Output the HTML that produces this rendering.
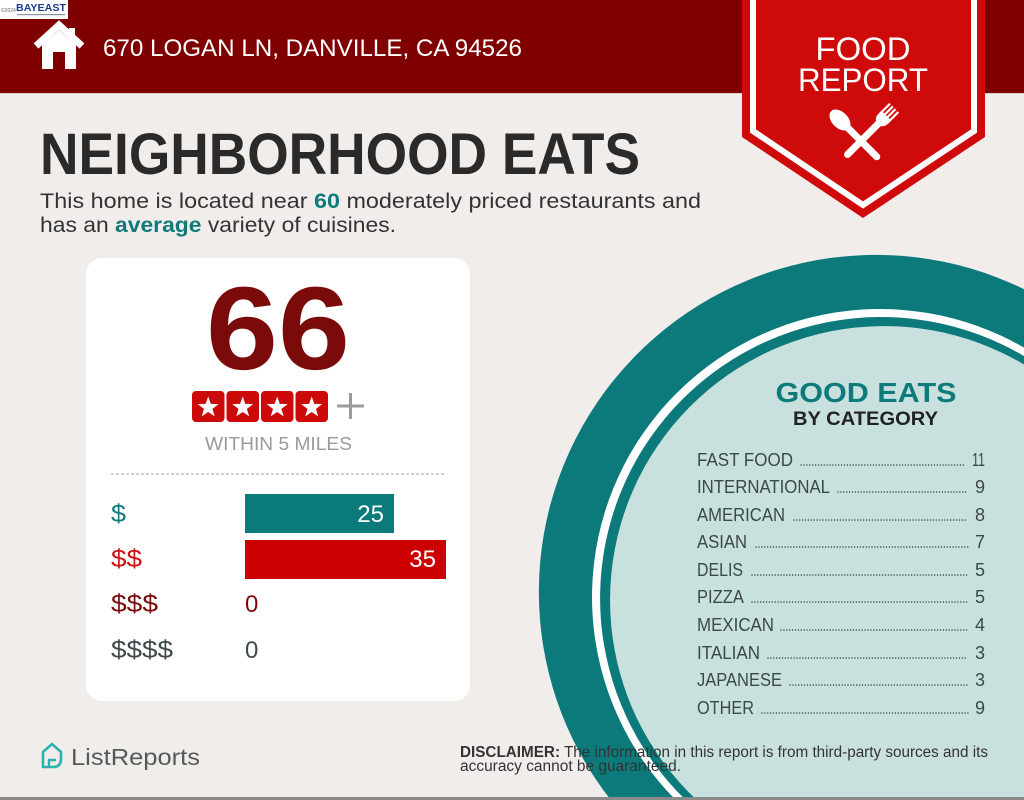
<!DOCTYPE html>
<html>
<head>
<meta charset="utf-8">
<style>
  html, body { margin: 0; padding: 0; background: #f1edea; width: 1024px; height: 800px; overflow: hidden; }
  svg { display: block; }
  text { font-family: "Liberation Sans", Arial, sans-serif; }
</style>
</head>
<body>
<svg width="1024" height="800" viewBox="0 0 1024 800" xmlns="http://www.w3.org/2000/svg">
  <!-- background -->
  <rect x="0" y="0" width="1024" height="800" fill="#f1edea"/>

  <!-- big circle (clipped to frame as paths) -->
  <path d="M610.8,800 A337,337 0 0 1 1024,289.2 L1024,800 Z" fill="#0c7a7b"/>
  <path d="M675.7,800 A288,288 0 0 1 1024,347.6 L1024,800 Z" fill="#ffffff"/>
  <path d="M685.7,800 A281,281 0 0 1 1024,356.1 L1024,800 Z" fill="#0c7a7b"/>
  <path d="M696.7,800 A274,274 0 0 1 1024,364.5 L1024,800 Z" fill="#c9e1de"/>

  <!-- header band -->
  <rect x="0" y="0" width="1024" height="93" fill="#7e0000"/>
  <rect x="0" y="93" width="1024" height="1" fill="#c9a7a3" opacity="0.5"/>

  <!-- BAYEAST logo -->
  <rect x="0" y="0" width="68" height="19" fill="#ffffff"/>
  <text x="1" y="12" font-size="5" fill="#666">©2024</text>
  <text x="16" y="11" font-size="10.5" font-weight="bold" fill="#1d3d8c" textLength="50" lengthAdjust="spacingAndGlyphs">BAYEAST</text>
  <rect x="17" y="14" width="48" height="1.2" fill="#8892a8"/>

  <!-- house icon -->
  <polyline points="36,46 59,25 82,46" fill="none" stroke="#ffffff" stroke-width="7" stroke-linejoin="miter"/>
  <rect x="69" y="28" width="6" height="12" fill="#ffffff"/>
  <path d="M42,45 L59,30 L76,45 L76,69 L65,69 L65,52 L53,52 L53,69 L42,69 Z" fill="#ffffff"/>

  <!-- address -->
  <text x="103" y="56" font-size="24" fill="#ffffff" textLength="419" lengthAdjust="spacingAndGlyphs">670 LOGAN LN, DANVILLE, CA 94526</text>

  <!-- FOOD REPORT banner -->
  <polygon points="742,0 742,137 863,218 985,137 985,0" fill="#cf0a0a"/>
  <polyline points="753,0 753,131 863,205 974,131 974,0" fill="none" stroke="#ffffff" stroke-width="6"/>
  <text x="863" y="60" font-size="32" fill="#ffffff" text-anchor="middle" textLength="95" lengthAdjust="spacingAndGlyphs">FOOD</text>
  <text x="863" y="91" font-size="32" fill="#ffffff" text-anchor="middle" textLength="130" lengthAdjust="spacingAndGlyphs">REPORT</text>
  <!-- spoon -->
  <g transform="translate(840,120) rotate(-45)">
    <ellipse cx="0" cy="0" rx="8" ry="12.5" fill="#ffffff"/>
    <line x1="0" y1="8" x2="0" y2="52" stroke="#ffffff" stroke-width="7" stroke-linecap="round"/>
  </g>
  <!-- fork -->
  <g transform="translate(885,117) rotate(45)">
    <path d="M-7,-2 L7,-2 L7,2 Q7,9 0,11 Q-7,9 -7,2 Z" fill="#ffffff"/>
    <rect x="-7" y="-13" width="2.2" height="12" fill="#ffffff"/>
    <rect x="-3" y="-13" width="2.2" height="12" fill="#ffffff"/>
    <rect x="0.8" y="-13" width="2.2" height="12" fill="#ffffff"/>
    <rect x="4.8" y="-13" width="2.2" height="12" fill="#ffffff"/>
    <line x1="0" y1="8" x2="0" y2="53" stroke="#ffffff" stroke-width="7" stroke-linecap="round"/>
  </g>

  <!-- Title -->
  <text x="40" y="174" font-size="58" font-weight="bold" fill="#2a2a2a" textLength="600" lengthAdjust="spacingAndGlyphs">NEIGHBORHOOD EATS</text>
  <text x="40" y="208" font-size="21" fill="#333333" textLength="661" lengthAdjust="spacingAndGlyphs">This home is located near <tspan font-weight="bold" fill="#0e7b7b">60</tspan> moderately priced restaurants and</text>
  <text x="40" y="232" font-size="21" fill="#333333" textLength="356" lengthAdjust="spacingAndGlyphs">has an <tspan font-weight="bold" fill="#0e7b7b">average</tspan> variety of cuisines.</text>

  <!-- white card -->
  <rect x="86" y="258" width="384" height="443" rx="16" ry="16" fill="#ffffff"/>

  <text x="278" y="369" font-size="118" font-weight="bold" fill="#7b0a0a" text-anchor="middle" textLength="144" lengthAdjust="spacingAndGlyphs">66</text>

  <!-- stars -->
  <g>
    <rect x="192" y="391" width="32.5" height="31" rx="4" fill="#cc0a0a"/>
    <rect x="226.5" y="391" width="32.5" height="31" rx="4" fill="#cc0a0a"/>
    <rect x="261" y="391" width="32.5" height="31" rx="4" fill="#cc0a0a"/>
    <rect x="295.5" y="391" width="32.5" height="31" rx="4" fill="#cc0a0a"/>
    <g fill="#ffffff">
      <polygon transform="translate(208.2,407.5)" points="0,-11 2.6,-3.6 10.5,-3.4 4.2,1.4 6.5,8.9 0,4.5 -6.5,8.9 -4.2,1.4 -10.5,-3.4 -2.6,-3.6"/>
      <polygon transform="translate(242.7,407.5)" points="0,-11 2.6,-3.6 10.5,-3.4 4.2,1.4 6.5,8.9 0,4.5 -6.5,8.9 -4.2,1.4 -10.5,-3.4 -2.6,-3.6"/>
      <polygon transform="translate(277.2,407.5)" points="0,-11 2.6,-3.6 10.5,-3.4 4.2,1.4 6.5,8.9 0,4.5 -6.5,8.9 -4.2,1.4 -10.5,-3.4 -2.6,-3.6"/>
      <polygon transform="translate(311.7,407.5)" points="0,-11 2.6,-3.6 10.5,-3.4 4.2,1.4 6.5,8.9 0,4.5 -6.5,8.9 -4.2,1.4 -10.5,-3.4 -2.6,-3.6"/>
    </g>
    <line x1="337" y1="406" x2="364" y2="406" stroke="#9b9b9b" stroke-width="3"/>
    <line x1="350.5" y1="393" x2="350.5" y2="419" stroke="#9b9b9b" stroke-width="3"/>
  </g>

  <text x="205" y="450" font-size="18" fill="#9a9a9a" textLength="147" lengthAdjust="spacingAndGlyphs">WITHIN 5 MILES</text>

  <line x1="111" y1="474" x2="446" y2="474" stroke="#a0a0a0" stroke-width="1" stroke-dasharray="3 2"/>

  <!-- price rows -->
  <text x="111" y="522" font-size="25" fill="#0e7b7b" textLength="15" lengthAdjust="spacingAndGlyphs">$</text>
  <rect x="245" y="494" width="149" height="39" fill="#0b7a7a"/>
  <text x="384" y="522" font-size="24" fill="#ffffff" text-anchor="end">25</text>

  <text x="111" y="567" font-size="25" fill="#cc1212" textLength="31" lengthAdjust="spacingAndGlyphs">$$</text>
  <rect x="245" y="540" width="201" height="39" fill="#cc0000"/>
  <text x="436" y="567" font-size="24" fill="#ffffff" text-anchor="end">35</text>

  <text x="111" y="612" font-size="25" fill="#7b0a0a" textLength="47" lengthAdjust="spacingAndGlyphs">$$$</text>
  <text x="245" y="612" font-size="24" fill="#7b0a0a">0</text>

  <text x="111" y="658" font-size="25" fill="#3e4a4a" textLength="62" lengthAdjust="spacingAndGlyphs">$$$$</text>
  <text x="245" y="658" font-size="24" fill="#3e4a4a">0</text>

  <!-- Good eats -->
  <text x="866" y="402" font-size="28" font-weight="bold" fill="#0e7b7b" text-anchor="middle" textLength="181" lengthAdjust="spacingAndGlyphs">GOOD EATS</text>
  <text x="865.5" y="425" font-size="19" font-weight="bold" fill="#222222" text-anchor="middle" textLength="145" lengthAdjust="spacingAndGlyphs">BY CATEGORY</text>

  <g font-size="18" fill="#3b4848">
    <text x="697" y="466" textLength="96" lengthAdjust="spacingAndGlyphs">FAST FOOD</text>
    <text x="985" y="466" text-anchor="end" textLength="13" lengthAdjust="spacingAndGlyphs">11</text>
    <text x="697" y="493" textLength="133" lengthAdjust="spacingAndGlyphs">INTERNATIONAL</text>
    <text x="985" y="493" text-anchor="end">9</text>
    <text x="697" y="521" textLength="88" lengthAdjust="spacingAndGlyphs">AMERICAN</text>
    <text x="985" y="521" text-anchor="end">8</text>
    <text x="697" y="548" textLength="50" lengthAdjust="spacingAndGlyphs">ASIAN</text>
    <text x="985" y="548" text-anchor="end">7</text>
    <text x="697" y="576" textLength="46" lengthAdjust="spacingAndGlyphs">DELIS</text>
    <text x="985" y="576" text-anchor="end">5</text>
    <text x="697" y="603" textLength="47" lengthAdjust="spacingAndGlyphs">PIZZA</text>
    <text x="985" y="603" text-anchor="end">5</text>
    <text x="697" y="631" textLength="77" lengthAdjust="spacingAndGlyphs">MEXICAN</text>
    <text x="985" y="631" text-anchor="end">4</text>
    <text x="697" y="659" textLength="63" lengthAdjust="spacingAndGlyphs">ITALIAN</text>
    <text x="985" y="659" text-anchor="end">3</text>
    <text x="697" y="686" textLength="85" lengthAdjust="spacingAndGlyphs">JAPANESE</text>
    <text x="985" y="686" text-anchor="end">3</text>
    <text x="697" y="714" textLength="57" lengthAdjust="spacingAndGlyphs">OTHER</text>
    <text x="985" y="714" text-anchor="end">9</text>
  </g>
  <g stroke="#3b4848" stroke-width="1.5" stroke-linecap="round" stroke-dasharray="0 2.9" fill="none">
    <line x1="801" y1="465" x2="966" y2="465"/>
    <line x1="838" y1="492" x2="968" y2="492"/>
    <line x1="794" y1="520" x2="968" y2="520"/>
    <line x1="756" y1="547" x2="970" y2="547"/>
    <line x1="752" y1="575" x2="968" y2="575"/>
    <line x1="752" y1="602" x2="968" y2="602"/>
    <line x1="781" y1="630" x2="968" y2="630"/>
    <line x1="768" y1="658" x2="968" y2="658"/>
    <line x1="790" y1="685" x2="968" y2="685"/>
    <line x1="762" y1="713" x2="968" y2="713"/>
  </g>

  <!-- ListReports logo -->
  <path d="M43,767 L43,752 L52,744 L61,752 L61,759 Q61,767 53,767 Z" fill="none" stroke="#2bb3b0" stroke-width="2.6" stroke-linejoin="round"/>
  <path d="M49,767 L49,760 L56,760" fill="none" stroke="#2bb3b0" stroke-width="2.4" stroke-linejoin="round"/>
  <text x="71" y="765" font-size="23" fill="#555a5a" textLength="129" lengthAdjust="spacingAndGlyphs">ListReports</text>

  <!-- Disclaimer -->
  <text x="460" y="757" font-size="15.5" fill="#333333" textLength="528" lengthAdjust="spacingAndGlyphs"><tspan font-weight="bold">DISCLAIMER:</tspan> The information in this report is from third-party sources and its</text>
  <text x="460" y="771" font-size="15.5" fill="#333333" textLength="221" lengthAdjust="spacingAndGlyphs">accuracy cannot be guaranteed.</text>

  <!-- bottom line -->
  <rect x="0" y="797" width="1024" height="3" fill="#8a8a8a"/>
</svg>
</body>
</html>
